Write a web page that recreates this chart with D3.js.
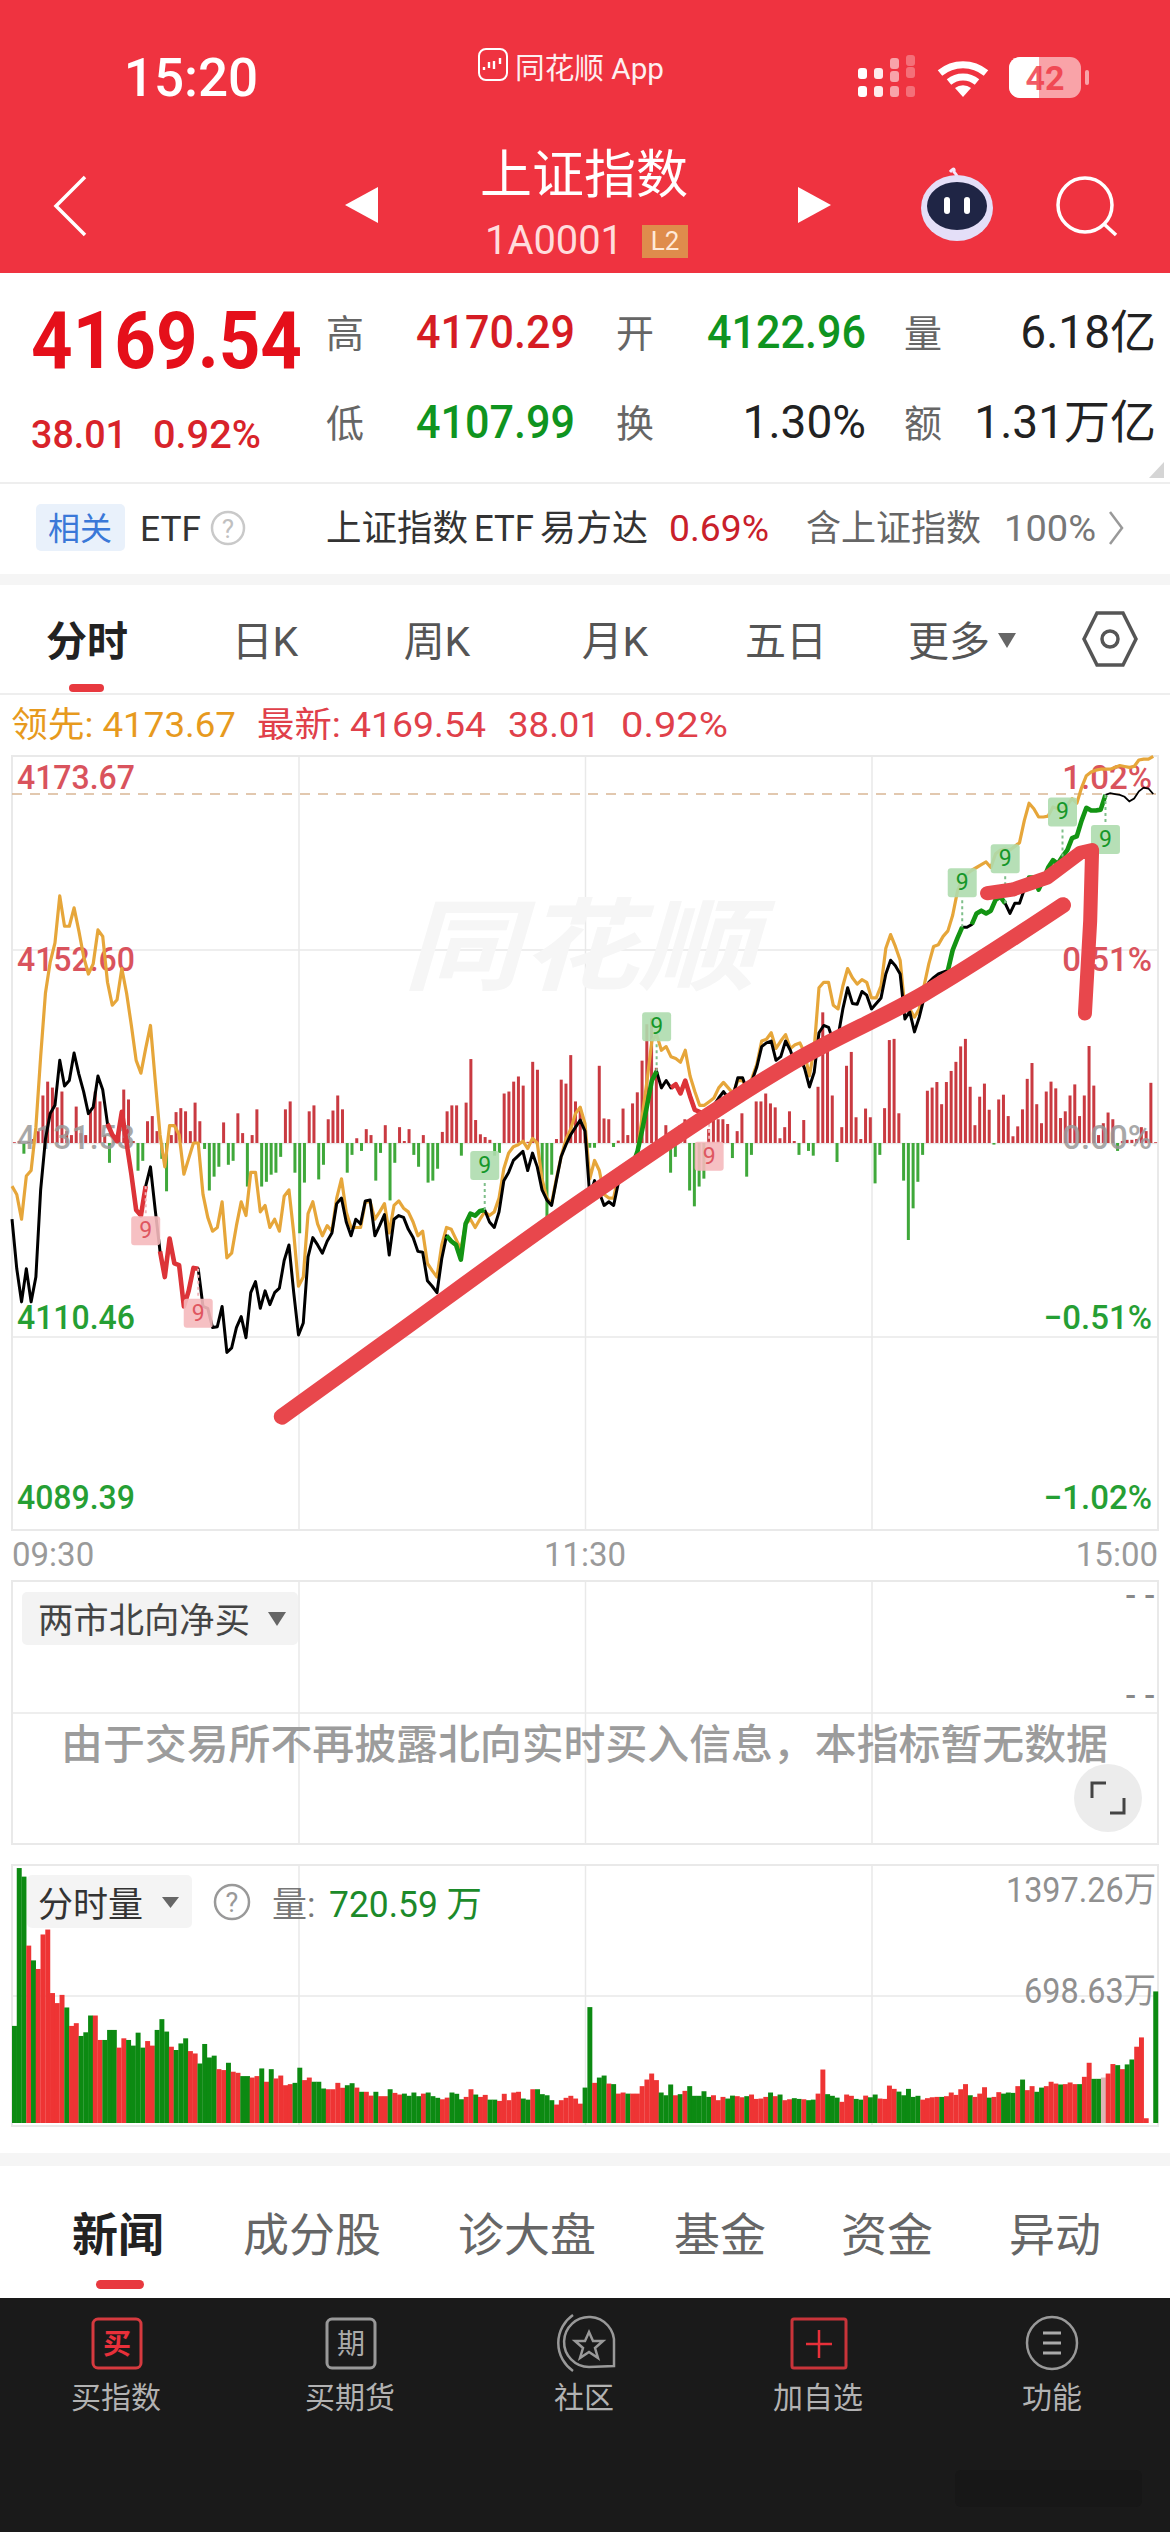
<!DOCTYPE html>
<html lang="zh">
<head>
<meta charset="utf-8">
<title>上证指数</title>
<script src="https://cdn.jsdelivr.net/npm/d3@7/dist/d3.min.js"></script>
<style>
  html, body { margin: 0; padding: 0; background: #fff; }
  svg { display: block; }
  text { font-family: Roboto, "Noto Sans CJK SC", sans-serif; }
</style>
</head>
<body>
<div id="chart"></div>
<script>
// Quote values
const prevClose = 4131.53;
const priceTicks = [4173.67, 4152.60, 4131.53, 4110.46, 4089.39];
const pctTicks = ['1.02%', '0.51%', '0.00%', '−0.51%', '−1.02%'];
const timeLabels = ['09:30', '11:30', '15:00'];
const timeLabelMinutes = [0, 120, 240];
const gridMinutes = [60, 120, 180];

// Latest price per minute, index points above the previous close
const pricePts = [
  -8.3,-13.7,-17.3,-13.7,-17.3,-14.6,-5.1,0.4,3.2,4.1,
  9.0,6.2,6.8,9.8,7.5,5.6,3.2,3.9,7.3,5.8,
  2.1,0.9,0.2,3.4,0,-3.4,-7.3,-7.9,-4.7,-2.6,
  -7.3,-11.8,-14.6,-10.4,-13.1,-13.3,-17.8,-16.1,-13.6,-13.7,
  -17.8,-18.0,-20.1,-20.0,-17.8,-22.8,-22.3,-20.1,-18.9,-21.2,
  -16.3,-15.1,-18.0,-16.1,-17.6,-16.3,-15.8,-12.8,-11.1,-16.3,
  -20.9,-19.6,-12.4,-10.3,-11.1,-12.0,-10.7,-9.8,-6.6,-6.0,
  -8.6,-10.1,-8.3,-8.8,-6.3,-6.2,-10.1,-9.0,-7.8,-12.2,
  -8.3,-7.9,-8.1,-9.4,-10.3,-11.8,-11.9,-15.0,-15.6,-16.3,
  -12.6,-10.1,-10.7,-11.1,-12.7,-8.8,-7.7,-7.9,-7.4,-7.3,
  -8.6,-9.2,-7.5,-4.1,-3.2,-1.9,-1.4,-0.9,-3.0,-1.1,
  -2.6,-5.1,-6.2,-6.8,-4.1,-1.5,-0.2,0.9,1.7,2.5,
  1.3,-5.8,-4.1,-5.4,-6.8,-6.4,-6.8,-4.3,-3.4,-3.0,
  -2.4,-0.9,1.5,4.1,6.8,7.8,6.0,6.8,6.0,6.4,
  5.4,6.8,5.1,3.6,3.4,3.0,3.4,4.1,4.9,5.6,
  4.9,5.1,7.1,7.1,5.6,6.8,8.3,10.5,10.9,11.1,
  9.0,9.4,11.1,10.1,8.6,9.4,8.1,6.1,7.7,12.0,
  12.8,12.6,11.1,11.6,14.6,16.9,15.2,15.1,16.5,16.1,
  14.6,15.2,15.8,18.4,19.9,19.3,18.4,13.5,14.3,12.1,
  13.7,15.8,17.5,18.0,18.4,18.6,18.8,21.0,22.3,23.5,
  23.5,23.8,25.0,25.3,25.0,25.3,26.5,26.8,26.1,25.0,
  26.1,26.1,27.6,28.9,28.9,27.6,28.7,30.0,30.8,30.4,
  31.2,31.9,33.2,33.4,35.1,36.5,36.2,36.2,36.3,37.9,
  38.1,38.0,37.9,37.7,37.2,37.5,38.3,38.7,38.6,38.0
];

// Leading index per minute, same units
const leadPts = [
  -4.7,-5.6,-8.3,-3.6,-3.0,1.7,9.4,16.3,19.7,21.8,
  26.9,23.6,23.6,25.6,23.1,20.3,18.4,19.5,23.2,22.5,
  17.5,15.0,15.6,19.0,16.3,12.8,9.0,7.6,10.3,12.8,
  6.8,0.9,-2.6,1.9,1.9,0.9,-3.4,-1.7,0,0,
  -5.6,-8.1,-9.6,-9.2,-6.4,-12.5,-12.0,-9.0,-6.4,-7.9,
  -3.2,-3.2,-7.5,-6.8,-9.2,-8.3,-9.6,-5.8,-5.1,-9.8,
  -15.6,-14.6,-7.7,-6.4,-8.8,-10.1,-9.0,-9.6,-6.0,-3.9,
  -7.5,-9.2,-9.2,-9.2,-6.4,-6.4,-8.3,-7.5,-6.6,-9.8,
  -6.8,-6.3,-7.1,-7.5,-8.6,-10.1,-9.6,-13.1,-13.9,-14.6,
  -11.1,-9.2,-9.4,-10.5,-11.6,-8.8,-8.3,-9.2,-8.3,-7.5,
  -7.9,-7.5,-6.0,-2.8,-1.1,-0.4,-0.2,0.2,-0.6,0.5,
  0,-3.9,-6.0,-6.6,-3.9,-1.5,0.4,1.5,3.2,3.9,
  2.1,-3.9,-1.9,-3.0,-5.6,-6.0,-6.0,-3.4,-2.8,-3.6,
  -2.4,-0.9,3.0,6.8,11.1,11.8,10.1,10.5,9.4,9.2,
  8.8,10.1,7.3,5.6,4.1,4.1,4.5,4.9,6.0,6.6,
  6.0,5.4,6.8,6.8,5.8,7.1,8.6,11.1,11.3,12.0,
  10.3,11.1,11.8,10.3,10.7,10.9,9.8,7.3,10.3,16.9,
  17.5,17.5,15.0,14.6,17.1,19.0,18.0,17.3,17.8,17.5,
  15.8,15.8,17.1,21.2,22.7,21.4,19.9,14.6,14.6,13.7,
  14.6,17.1,19.5,21.4,21.6,22.5,23.1,24.8,27.4,28.7,
  29.3,29.7,30.0,30.3,30.6,30.0,31.5,31.9,32.0,31.9,
  32.3,32.7,35.1,37.0,36.4,35.5,35.5,35.6,36.6,36.4,
  36.5,36.8,37.5,37.0,38.7,40.0,40.4,40.6,40.7,40.7,
  40.7,40.9,41.1,41.0,40.9,41.0,41.7,41.8,41.8,42.1
];

// Buying and selling force bars around the centre line
const flowBars = [
  0.2,0.5,-2.7,0.3,1,3,12,15.5,14,9,
  13,3,2,9.2,2.5,2,8,13,10.5,2,
  -5,2,3,13.5,11,0.5,-7,-4.5,5.5,6.8,
  3,-4,-12.2,2,7.8,8.8,8,3,10.2,5.5,
  -1.5,-12,-8.5,-6,5.2,-5.5,-4.5,7.5,2.5,-11,
  2,8.5,-11,-9.8,-8,-7.5,-3.5,8.5,10.5,-7.5,
  -22.8,-10,8,9.5,-9.2,-5.5,6,8.2,12,8.5,
  -7.5,-3,1.2,-2,3.5,2,-9.5,-2.5,4.5,-14.5,
  -5,4,0.5,3.5,-3,-6,2,-10,-9.5,-6.5,
  2.8,8,9.5,9.5,-3.2,10.2,21.2,5.8,2.2,1.5,
  0.8,-3.2,-2.5,12.5,13,15.5,16.8,14.5,0.3,20.5,
  18.5,-11,-22,-8,1,16,15,22.2,10.5,9,
  3,-1.2,-1.2,19.5,6.2,6,-1,0.6,8.7,2,
  10,12.8,20.8,30,31.5,19,0.5,4.5,-7.5,-3.5,
  4.5,6,-12,-16,-11,-9,3.5,7,6,6,
  4.8,-3.8,3,7.5,-8.5,-3,10.5,10.5,12.5,10,
  9,1.2,4,8,0.5,-3,5.8,-2,-3.2,14.2,
  33,25,12,-4.8,4,19.5,23,6.5,1,8.7,
  6.5,-10.2,-3,8.8,26,26.3,7.5,-9.5,-24.5,-16.5,
  -9.8,-3,13.2,14,15.4,9.8,15.4,18.2,20.5,24.4,
  26.3,14.2,4.5,11.7,15,8.4,-0.4,11,12.2,6.8,
  1.7,4.2,8.5,16.2,20.2,9.8,5,13,15.5,13.8,
  6.3,8,12,14.8,6.8,12,24.5,14.5,2,5,
  7.7,6,-2,0.5,0.8,0.8,1,4,3,15.2,
  0.2
];

// Per minute volume in 万, with R for up and G for down minutes
const volumeBars = [
  532,1397,1350,972,891,844,1033,1060,712,657,
  702,633,532,547,477,497,589,589,455,455,
  510,510,413,464,455,424,495,413,449,424,
  510,569,501,418,400,436,464,394,381,326,
  433,359,369,295,290,330,281,275,257,257,
  249,257,299,226,295,244,260,207,213,220,
  303,235,249,226,226,189,185,185,220,193,
  207,218,194,171,171,150,171,147,147,185,
  165,156,161,149,167,147,161,167,147,138,
  130,139,167,160,130,143,185,156,143,154,
  128,128,121,160,125,167,171,134,128,185,
  185,158,152,125,101,125,138,149,134,106,
  194,635,220,249,260,216,213,161,167,161,
  161,161,202,238,271,235,167,152,211,152,
  158,176,202,149,149,174,143,152,125,143,
  134,150,147,141,147,156,132,134,143,167,
  147,156,125,130,136,132,130,125,128,161,
  293,158,149,139,116,156,149,132,128,150,
  141,156,134,132,205,187,172,152,187,143,
  149,128,136,141,143,143,147,167,154,185,
  213,152,143,161,196,139,143,169,161,167,
  165,202,238,180,202,171,194,202,226,216,
  211,213,222,213,213,253,330,242,242,249,
  271,323,317,295,321,348,418,469,26,0,
  721
];
const volumeSide = (
  'GGGRGRRRRR' + 'RGRRGGGRRG' + 'GGRRGGGGRR' + 'GGGRGGGRRG' +
  'GGGRRGRRGG' + 'RRGRGRRRRG' + 'GRRGGGRRRR' + 'GGRGRRGRRG' +
  'RRGGGGRGGG' + 'RRGGGRRGRR' + 'GGRRRRRGGR' + 'GGGGRRRRRR' +
  'GGRGGRGRRG' + 'RRRRRRGGGR' + 'GRGGGGGRRR' + 'GGRRGRRRRG' +
  'RGRRGGRGGR' + 'RGGGRRRGGR' + 'GGRRRRGGGG' + 'GRRRRGRRRR' +
  'RGRRRGRRGG' + 'GRGRRGGRRR' + 'GRRRGRRGGR' + 'RRGRGGRRRR' + 'G'
).split('');
const volumeTicks = [698.63, 1397.26];

// Stretches of the price line drawn heavier, and the 9 count signals
const redRuns = [[20, 28], [31, 39], [138, 146]];
const greenRuns = [[91, 99], [130, 135], [196, 199], [201, 208], [212, 229]];
const signalMinutes = [28, 39, 99, 135, 146, 199, 208, 220, 229];
const signalKinds = ['red', 'red', 'green', 'green', 'red', 'green', 'green', 'green', 'green'];
const signalBelow = [true, true, false, false, true, false, false, false, true];

// Hand drawn pen strokes over the chart, in minutes and index points
const penLongMinutes = [56.5, 79.2, 119.6, 162.9, 190.8, 220.1];
const penLongPts = [-29.8, -21.3, -6.2, 8.6, 16.2, 25.9];
const penHookMinutes = [204.2, 209.6, 216.8, 223.7, 226.2, 225.8, 224.7];
const penHookPts = [27.2, 27.6, 28.9, 31.6, 31.9, 24.2, 14.1];

const WIDTH = 1170, HEIGHT = 2532;
const plotLeft = 12, plotRight = 1158;
const RED = '#d8232a', GREEN = '#0f9420', GRAY = '#9a9a9a', GRID = '#e9e9e9';

const svg = d3.select('#chart').append('svg')
  .attr('width', WIDTH).attr('height', HEIGHT).attr('viewBox', `0 0 ${WIDTH} ${HEIGHT}`);

function label(parent, x, y, str, size, fill, opts = {}) {
  const t = parent.append('text').attr('x', x).attr('y', y).text(str)
    .attr('font-size', size).attr('fill', fill)
    .attr('text-anchor', opts.anchor || 'start')
    .attr('font-weight', opts.weight || 400);
  if (opts.length) t.attr('textLength', opts.length).attr('lengthAdjust', 'spacingAndGlyphs');
  if (opts.opacity) t.attr('opacity', opts.opacity);
  return t;
}

svg.append('rect').attr('width', WIDTH).attr('height', HEIGHT).attr('fill', '#fff');

drawHeader(svg.append('g'));
drawQuote(svg.append('g'));
drawPriceChart(svg.append('g'));
drawNorthPanel(svg.append('g'));
drawVolumePanel(svg.append('g'));
drawFooter(svg.append('g'));

/** Red title bar with status bar */
function drawHeader(g) {
  g.append('rect').attr('width', WIDTH).attr('height', 273).attr('fill', '#ef3340');
  label(g, 191, 96, '15:20', 53, '#fff', { anchor: 'middle', weight: 500 });

  g.append('rect').attr('x', 479).attr('y', 49).attr('width', 28).attr('height', 31).attr('rx', 7)
    .attr('fill', '#ef3340').attr('stroke', '#fff').attr('stroke-width', 2);
  g.append('path').attr('d', 'M484 70v-3M489 68v-6M494 69v-8M500 64v-6')
    .attr('stroke', '#fff').attr('stroke-width', 2.4);
  label(g, 515, 79, '同花顺 App', 29, '#fff', { length: 149 }).attr('opacity', 0.92);

  // signal dots, two of the columns faded
  const dotCols = [858, 874, 890, 906];
  dotCols.forEach((cx, c) => {
    const rows = c < 2 ? [73, 91] : c === 2 ? [63, 76, 91] : [60, 72, 91];
    rows.forEach(cy => {
      g.append('rect').attr('x', cx).attr('y', cy - 5).attr('width', 9).attr('height', 11).attr('rx', 3)
        .attr('fill', '#fff').attr('opacity', c === 0 ? 1 : c === 1 ? 0.9 : c === 2 ? 0.55 : 0.3);
    });
  });

  // wifi
  const wifi = g.append('g').attr('fill', 'none').attr('stroke', '#fff').attr('stroke-width', 7);
  wifi.append('path').attr('d', 'M940 73a36 36 0 0 1 46 0');
  wifi.append('path').attr('d', 'M949 82a22 22 0 0 1 28 0');
  g.append('path').attr('d', 'M955 88a13 13 0 0 1 16 0l-8 9z').attr('fill', '#fff');

  // battery
  g.append('rect').attr('x', 1009).attr('y', 57).attr('width', 72).attr('height', 41).attr('rx', 11).attr('fill', '#f9a3a8');
  g.append('path').attr('d', 'M1020 57h19v41h-19a11 11 0 0 1-11-11v-19a11 11 0 0 1 11-11z').attr('fill', '#fff');
  g.append('rect').attr('x', 1085).attr('y', 70).attr('width', 4).attr('height', 15).attr('rx', 2).attr('fill', '#f9a3a8');
  label(g, 1045, 90, '42', 34, '#ef3340', { anchor: 'middle', weight: 700 }).attr('opacity', 0.8);

  const icons = g.append('g').attr('fill', 'none').attr('stroke', '#fff').attr('stroke-width', 3.5);
  icons.append('path').attr('d', 'M85 177L56 206L85 235');
  g.append('path').attr('d', 'M378 187V223L345 205Z').attr('fill', '#fff');
  g.append('path').attr('d', 'M798 187V223L831 205Z').attr('fill', '#fff');
  icons.append('circle').attr('cx', 1085).attr('cy', 205).attr('r', 27);
  icons.append('path').attr('d', 'M1104 224L1116 235');

  label(g, 584, 193, '上证指数', 52, '#fff', { anchor: 'middle' });
  label(g, 485, 254, '1A0001', 40, '#ffdcdc', { length: 138 });
  g.append('rect').attr('x', 642).attr('y', 225).attr('width', 46).attr('height', 33).attr('fill', '#df8c4c');
  label(g, 665, 250, 'L2', 26, '#ffe9d9', { anchor: 'middle' });

  // robot
  g.append('path').attr('d', 'M950 172q5 -6 4 0q2 2 3 4').attr('fill', 'none').attr('stroke', '#f4e8fb').attr('stroke-width', 3);
  g.append('ellipse').attr('cx', 957).attr('cy', 208).attr('rx', 36).attr('ry', 33).attr('fill', '#e4dff8');
  g.append('ellipse').attr('cx', 957).attr('cy', 206).attr('rx', 30).attr('ry', 24).attr('fill', '#1f2545');
  g.selectAll('.eye').data([947, 967]).join('rect').attr('class', 'eye')
    .attr('x', d => d - 3).attr('y', 197).attr('width', 6).attr('height', 17).attr('rx', 3).attr('fill', '#fff');
}

/** Quote block, related ETF row and period tabs */
function drawQuote(g) {
  label(g, 31, 368, '4169.54', 80, '#e50f1a', { weight: 700, length: 271 });
  label(g, 31, 448, '38.01', 38, RED, { weight: 500, length: 96 });
  label(g, 153, 448, '0.92%', 38, RED, { weight: 500, length: 108 });

  const names = [['高', 326, 347], ['开', 616, 347], ['量', 904, 347], ['低', 326, 437], ['换', 616, 437], ['额', 904, 437]];
  names.forEach(d => label(g, d[1], d[2], d[0], 38, '#666'));
  label(g, 416, 348, '4170.29', 46, '#d51c24', { weight: 500, length: 159 });
  label(g, 707, 348, '4122.96', 46, GREEN, { weight: 500, length: 159 });
  label(g, 1156, 348, '6.18亿', 46, '#222', { anchor: 'end' });
  label(g, 416, 438, '4107.99', 46, GREEN, { weight: 500, length: 159 });
  label(g, 866, 438, '1.30%', 46, '#222', { anchor: 'end' });
  label(g, 1156, 438, '1.31万亿', 46, '#222', { anchor: 'end' });
  g.append('path').attr('d', 'M1164 462V478H1149Z').attr('fill', '#d5d5d5');
  g.append('rect').attr('y', 482).attr('width', WIDTH).attr('height', 2).attr('fill', '#eee');

  g.append('rect').attr('x', 36).attr('y', 504).attr('width', 89).attr('height', 47).attr('rx', 5).attr('fill', '#e9f1fb');
  label(g, 80, 540, '相关', 32, '#3a78d8', { anchor: 'middle' });
  label(g, 140, 541, 'ETF', 35, '#333', { length: 61 });
  g.append('circle').attr('cx', 228).attr('cy', 528).attr('r', 16).attr('fill', 'none').attr('stroke', '#c9c9c9').attr('stroke-width', 2.5);
  label(g, 228, 538, '?', 26, '#c0c0c0', { anchor: 'middle' });
  label(g, 326, 541, '上证指数', 36, '#333', { length: 142 });
  label(g, 474, 541, 'ETF', 36, '#333', { length: 60 });
  label(g, 540, 541, '易方达', 36, '#333', { length: 108 });
  label(g, 669, 541, '0.69%', 36, '#c9202a', { length: 100 });
  label(g, 806, 541, '含上证指数', 36, '#666', { length: 175 });
  label(g, 1004, 541, '100%', 36, '#777', { length: 92 });
  g.append('path').attr('d', 'M1110 512L1122 528L1110 544').attr('fill', 'none').attr('stroke', '#999').attr('stroke-width', 2.5);
  g.append('rect').attr('y', 574).attr('width', WIDTH).attr('height', 11).attr('fill', '#f5f5f5');

  const tabs = [['日K', 265], ['周K', 437], ['月K', 615], ['五日', 786], ['更多', 949]];
  label(g, 87, 656, '分时', 41, '#222', { anchor: 'middle', weight: 700 });
  tabs.forEach(d => label(g, d[1], 656, d[0], 41, '#555', { anchor: 'middle' }));
  g.append('path').attr('d', 'M998 633H1016L1007 648Z').attr('fill', '#666');
  g.append('path').attr('d', 'M1097 613H1123L1136 639L1123 665H1097L1084 639Z').attr('fill', 'none').attr('stroke', '#555').attr('stroke-width', 3.5);
  g.append('circle').attr('cx', 1110).attr('cy', 639).attr('r', 8).attr('fill', 'none').attr('stroke', '#555').attr('stroke-width', 3.5);
  g.append('rect').attr('x', 69).attr('y', 684).attr('width', 35).attr('height', 8).attr('rx', 4).attr('fill', '#e8393f');
  g.append('rect').attr('y', 693).attr('width', WIDTH).attr('height', 2).attr('fill', '#eee');
}

/** Main intraday chart */
function drawPriceChart(g) {
  const top = 756, bottom = 1530;
  const x = d3.scaleLinear().domain([0, 240]).range([plotLeft, plotRight]);
  const y = d3.scaleLinear().domain([4089.39, 4173.67]).range([bottom, top]);
  const yPts = d => y(prevClose + d);
  const flowY = d3.scaleLinear().domain([-49, 49]).range([1337, 949]);
  const band = d3.scaleBand().domain(d3.range(flowBars.length)).range([plotLeft, plotRight]);

  label(g, 11, 737, '领先: 4173.67', 35, '#e79a1e', { length: 225 });
  label(g, 257, 737, '最新: 4169.54', 35, '#e0404a', { length: 229 });
  label(g, 508, 737, '38.01', 35, '#e0404a', { length: 92 });
  label(g, 621, 737, '0.92%', 35, '#e0404a', { length: 107 });

  drawGrid(g, x, y, priceTicks.slice(1, 4), top, bottom);

  // watermark
  label(g, 403, 982, '同花顺', 100, '#f6f6f6', { length: 353, weight: 700 }).attr('font-style', 'italic');

  g.append('line').attr('x1', plotLeft).attr('x2', plotRight)
    .attr('y1', yPts(38.01)).attr('y2', yPts(38.01))
    .attr('stroke', '#d9b795').attr('stroke-width', 1.5).attr('stroke-dasharray', '10 8');

  g.append('g').selectAll('rect').data(flowBars).join('rect')
    .attr('x', (d, i) => band(i) + band.bandwidth() / 2 - 1.5)
    .attr('y', d => d > 0 ? flowY(d) : flowY(0))
    .attr('width', 3)
    .attr('height', d => Math.abs(flowY(d) - flowY(0)))
    .attr('fill', d => d > 0 ? '#c93a41' : '#3fa83a');

  // axis labels sit just inside each grid line
  const labelOffsets = [33, 21, 6, -8, -21];
  const labelColors = ['#d84a55', '#d84a55', GRAY, '#1a9a2a', '#1a9a2a'];
  priceTicks.forEach((p, i) => {
    const baseline = y(p) + labelOffsets[i];
    label(g, 17, baseline, p.toFixed(2), 33, labelColors[i], { weight: 500, length: 118, opacity: i === 2 ? 0.85 : 0.95 });
    label(g, 1152, baseline, pctTicks[i], 33, labelColors[i], { anchor: 'end', weight: 500, opacity: i === 2 ? 0.85 : 0.95 });
  });
  g.selectAll('.time').data(timeLabels).join('text').attr('class', 'time')
    .attr('x', (d, i) => x(timeLabelMinutes[i]))
    .attr('y', 1566)
    .attr('text-anchor', (d, i) => ['start', 'middle', 'end'][i])
    .attr('font-size', 33).attr('fill', GRAY)
    .text(d => d);

  const line = d3.line().x((d, i) => x(i));
  const leadPath = line.y(d => yPts(d));
  g.append('path').datum(leadPts).attr('d', leadPath)
    .attr('fill', 'none').attr('stroke', '#e6a63a').attr('stroke-width', 3.2).attr('stroke-linejoin', 'round');

  const runPath = (from, to) => d3.line()
    .x(i => x(i)).y(i => yPts(pricePts[i]))(d3.range(from, to + 1));

  g.append('path').attr('d', runPath(0, 229))
    .attr('fill', 'none').attr('stroke', '#000').attr('stroke-width', 3).attr('stroke-linejoin', 'round');
  g.append('path').attr('d', runPath(229, pricePts.length - 1))
    .attr('fill', 'none').attr('stroke', '#000').attr('stroke-width', 1.8);
  redRuns.forEach(r => g.append('path').attr('d', runPath(r[0], r[1]))
    .attr('fill', 'none').attr('stroke', '#dc3338').attr('stroke-width', 4.6).attr('stroke-linejoin', 'round'));
  greenRuns.forEach(r => g.append('path').attr('d', runPath(r[0], r[1]))
    .attr('fill', 'none').attr('stroke', '#139413').attr('stroke-width', 4.6).attr('stroke-linejoin', 'round'));

  // 9 count signals
  signalMinutes.forEach((m, i) => {
    const isRed = signalKinds[i] === 'red';
    const px = x(m), py = yPts(pricePts[m]);
    const gap = 30, size = 29;
    const tagTop = signalBelow[i] ? py + gap : py - gap - size;
    g.append('line').attr('x1', px).attr('x2', px).attr('y1', py)
      .attr('y2', signalBelow[i] ? py + gap : py - gap)
      .attr('stroke', isRed ? '#efb6ba' : '#7fbf8a').attr('stroke-width', 2).attr('stroke-dasharray', '3 3');
    g.append('rect').attr('x', px - size / 2).attr('y', tagTop).attr('width', size).attr('height', size).attr('rx', 3)
      .attr('fill', isRed ? '#f5b9bd' : '#aedcae').attr('opacity', 0.9);
    label(g, px, tagTop + 22, '9', 23, isRed ? '#df5660' : '#16972a', { anchor: 'middle' });
  });

  // pen strokes
  const pen = d3.line().curve(d3.curveCatmullRom).x(d => x(d[0])).y(d => yPts(d[1]));
  g.append('path').attr('d', pen(d3.zip(penLongMinutes, penLongPts)))
    .attr('fill', 'none').attr('stroke', '#e8474c').attr('stroke-width', 16).attr('stroke-linecap', 'round');
  g.append('path').attr('d', pen.curve(d3.curveLinear)(d3.zip(penHookMinutes, penHookPts)))
    .attr('fill', 'none').attr('stroke', '#e8474c').attr('stroke-width', 14)
    .attr('stroke-linecap', 'round').attr('stroke-linejoin', 'round');
}

/** Frame plus horizontal and vertical grid, built from axes */
function drawGrid(g, x, y, yTicks, top, bottom) {
  const grid = g.append('g');
  grid.append('g').attr('transform', `translate(0,${bottom})`)
    .call(d3.axisBottom(x).tickValues(gridMinutes).tickSize(top - bottom).tickFormat(''))
    .call(a => a.select('.domain').remove())
    .call(a => a.selectAll('line').attr('stroke', GRID).attr('stroke-width', 1.5));
  grid.append('g').attr('transform', `translate(${plotLeft},0)`)
    .call(d3.axisLeft(y).tickValues(yTicks).tickSize(plotLeft - plotRight).tickFormat(''))
    .call(a => a.select('.domain').remove())
    .call(a => a.selectAll('line').attr('stroke', GRID).attr('stroke-width', 1.5));
  grid.append('rect').attr('x', plotLeft).attr('y', top).attr('width', plotRight - plotLeft).attr('height', bottom - top)
    .attr('fill', 'none').attr('stroke', GRID).attr('stroke-width', 2);
}

/** Empty northbound panel */
function drawNorthPanel(g) {
  const x = d3.scaleLinear().domain([0, 240]).range([plotLeft, plotRight]);
  const y = d3.scaleLinear().domain([-1, 1]).range([1844, 1581]);
  drawGrid(g, x, y, [0], 1581, 1844);
  g.append('rect').attr('x', 22).attr('y', 1592).attr('width', 276).attr('height', 53).attr('rx', 5).attr('fill', '#f3f3f3');
  label(g, 38, 1633, '两市北向净买', 35, '#444', { length: 212 });
  g.append('path').attr('d', 'M268 1612H286L277 1626Z').attr('fill', '#666');
  label(g, 1155, 1606, '- -', 32, '#888', { anchor: 'end', weight: 500 });
  label(g, 1155, 1706, '- -', 32, '#888', { anchor: 'end', weight: 500 });
  label(g, 61, 1759, '由于交易所不再披露北向实时买入信息，本指标暂无数据', 41, '#9c9c9c', { length: 1047, weight: 500 });
  g.append('ellipse').attr('cx', 1108).attr('cy', 1798).attr('rx', 34).attr('ry', 34).attr('fill', '#ececec');
  g.append('path').attr('d', 'M1092 1798V1783H1106M1124 1798V1813H1110')
    .attr('fill', 'none').attr('stroke', '#444').attr('stroke-width', 3);
}

/** Per minute volume panel */
function drawVolumePanel(g) {
  const x = d3.scaleLinear().domain([0, 240]).range([plotLeft, plotRight]);
  const y = d3.scaleLinear().domain([0, volumeTicks[1]]).range([2123, 1868]);
  const band = d3.scaleBand().domain(d3.range(volumeBars.length)).range([plotLeft, plotRight]);
  drawGrid(g, x, y, [volumeTicks[0]], 1865, 2126);

  g.append('g').selectAll('rect').data(volumeBars).join('rect')
    .attr('x', (d, i) => band(i))
    .attr('y', d => y(d))
    .attr('width', band.bandwidth() + 0.2)
    .attr('height', d => y(0) - y(d))
    .attr('fill', (d, i) => i === 229 ? '#dcb4b4' : volumeSide[i] === 'R' ? '#ee3434' : '#0c8a12');

  g.append('rect').attr('x', 27).attr('y', 1875).attr('width', 165).attr('height', 53).attr('rx', 5).attr('fill', '#f3f3f3').attr('opacity', 0.95);
  label(g, 38, 1917, '分时量', 35, '#333');
  g.append('path').attr('d', 'M162 1897H179L170.5 1908Z').attr('fill', '#666');
  g.append('circle').attr('cx', 232).attr('cy', 1902).attr('r', 17).attr('fill', 'none').attr('stroke', '#999').attr('stroke-width', 2.5);
  label(g, 232, 1912, '?', 27, '#999', { anchor: 'middle' });
  label(g, 272, 1917, '量:', 35, '#777');
  label(g, 329, 1917, '720.59 万', 36, '#1c8a2a', { length: 153 });
  label(g, 1156, 1902, '1397.26万', 35, '#909090', { anchor: 'end', length: 150 });
  label(g, 1156, 2003, '698.63万', 35, '#909090', { anchor: 'end', length: 132 });
}

/** News tabs and dark action bar */
function drawFooter(g) {
  g.append('rect').attr('y', 2153).attr('width', WIDTH).attr('height', 13).attr('fill', '#f5f5f5');
  const newsTabs = [['成分股', 312], ['诊大盘', 527], ['基金', 720], ['资金', 887], ['异动', 1055]];
  label(g, 118, 2251, '新闻', 46, '#222', { anchor: 'middle', weight: 700 });
  newsTabs.forEach(d => label(g, d[1], 2251, d[0], 46, '#666', { anchor: 'middle' }));
  g.append('rect').attr('x', 96).attr('y', 2280).attr('width', 48).attr('height', 9).attr('rx', 4.5).attr('fill', '#e8393f');

  g.append('rect').attr('y', 2298).attr('width', WIDTH).attr('height', 234).attr('fill', '#1a1a1a');
  const actions = [['买指数', 116], ['买期货', 350], ['社区', 584], ['加自选', 818], ['功能', 1052]];
  actions.forEach(d => label(g, d[1], 2408, d[0], 30, '#b2b2b2', { anchor: 'middle' }));

  g.append('rect').attr('x', 93).attr('y', 2319).attr('width', 48).attr('height', 49).attr('rx', 5)
    .attr('fill', 'none').attr('stroke', '#d63a3f').attr('stroke-width', 3);
  label(g, 117, 2354, '买', 28, '#e8303a', { anchor: 'middle', weight: 700 });
  g.append('rect').attr('x', 327).attr('y', 2319).attr('width', 48).attr('height', 49).attr('rx', 5)
    .attr('fill', 'none').attr('stroke', '#999').attr('stroke-width', 3);
  label(g, 351, 2354, '期', 28, '#aaa', { anchor: 'middle' });

  const icon = g.append('g').attr('fill', 'none').attr('stroke', '#999').attr('stroke-width', 2.5);
  icon.append('path').attr('d', 'M573 2315a34 34 0 0 0 0 56');
  icon.append('path').attr('d', 'M614 2366V2344a25 25 0 1 0 -25 23z');
  icon.append('path').attr('d', 'M589 2332l4 9h10l-8 7 3 10-9-6-9 6 3-10-8-7h10z');

  g.append('rect').attr('x', 792).attr('y', 2319).attr('width', 54).attr('height', 49).attr('rx', 2)
    .attr('fill', 'none').attr('stroke', '#c9343a').attr('stroke-width', 3);
  g.append('path').attr('d', 'M819 2330V2358M806 2344H832').attr('stroke', '#e8303a').attr('stroke-width', 2.5);

  g.append('ellipse').attr('cx', 1052).attr('cy', 2343).attr('rx', 25).attr('ry', 26)
    .attr('fill', 'none').attr('stroke', '#999').attr('stroke-width', 2.5);
  g.append('path').attr('d', 'M1043 2333H1061M1043 2343H1061M1043 2353H1061').attr('stroke', '#aaa').attr('stroke-width', 3);

  // blurred stamp in the corner
  g.append('rect').attr('x', 955).attr('y', 2470).attr('width', 187).attr('height', 37).attr('rx', 6).attr('fill', '#171717');
}
</script>
</body>
</html>
